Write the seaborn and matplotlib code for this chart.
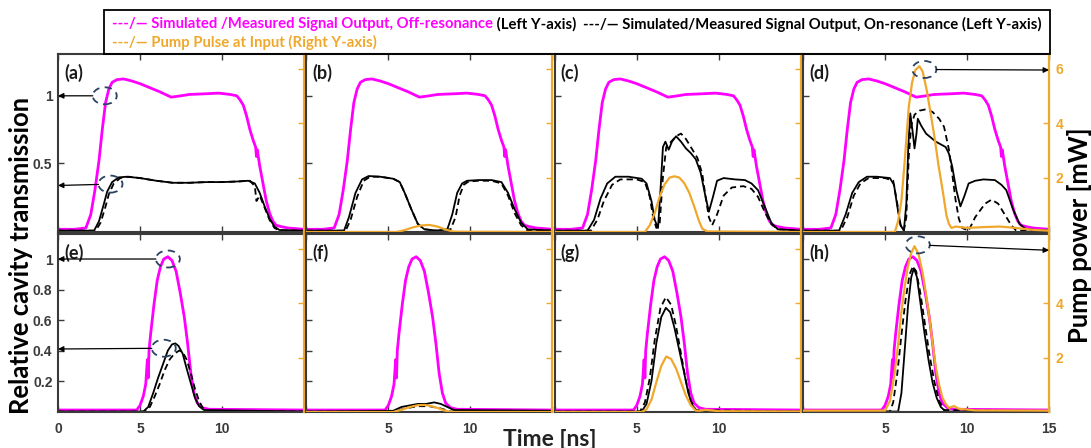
import matplotlib
matplotlib.use("Agg")
import matplotlib.pyplot as plt
import matplotlib.transforms as mtransforms
from matplotlib.patches import Ellipse, Rectangle
import seaborn as sns

# ---------------------------------------------------------------- data
# Off-resonance signal (relative transmission), long pulse, panels (a)-(d)
t_off_long = [0, 1.0, 1.7, 2.0, 2.25, 2.5, 2.7, 2.9, 3.1, 3.3, 3.6, 4.0, 4.5, 5.0, 5.6,
              6.2, 6.9, 7.5, 8.0, 9.0, 9.8, 10.5, 10.9, 11.1, 11.3, 11.5, 11.7, 11.9,
              12.05, 12.1, 12.15, 12.3, 12.5, 12.7, 12.9, 13.1, 13.3, 13.6, 14.0, 15.0]
v_off_long = [0.01, 0.01, 0.02, 0.12, 0.30, 0.52, 0.75, 0.95, 1.05, 1.10, 1.12, 1.125,
              1.11, 1.09, 1.06, 1.03, 0.99, 1.00, 1.01, 1.015, 1.02, 1.01, 1.00, 0.97,
              0.93, 0.85, 0.75, 0.67, 0.62, 0.55, 0.60, 0.48, 0.35, 0.22, 0.13, 0.07,
              0.04, 0.03, 0.02, 0.01]

# Off-resonance signal, short pulse, panels (e)-(h)
t_off_short = [0, 4.8, 5.0, 5.2, 5.35, 5.45, 5.5, 5.55, 5.65, 5.85, 6.05, 6.25, 6.45,
               6.7, 6.95, 7.2, 7.45, 7.7, 7.9, 8.1, 8.3, 8.5, 8.8, 9.2, 15.0]
v_off_short = [0.01, 0.01, 0.04, 0.10, 0.18, 0.34, 0.22, 0.40, 0.51, 0.70, 0.86, 0.95,
               1.00, 1.015, 0.99, 0.92, 0.78, 0.62, 0.45, 0.25, 0.12, 0.055, 0.025,
               0.015, 0.01]

# On-resonance signal, measured (solid) and simulated (dashed), per panel
t_on_meas = {
    "a": [0, 2.2, 2.5, 2.8, 3.0, 3.3, 3.7, 4.2, 5.0, 6.0, 7.0, 8.0, 9.0, 10.0, 11.0,
          11.6, 12.0, 12.3, 12.6, 12.9, 13.2, 13.5, 15],
    "b": [0, 2.3, 2.6, 3.0, 3.4, 3.8, 4.5, 5.3, 5.7, 6.0, 6.4, 6.8, 7.2, 8.0, 8.6, 8.9,
          9.2, 9.5, 9.8, 10.5, 11.3, 11.9, 12.3, 12.7, 13.1, 13.5, 15],
    "c": [0, 2.0, 2.4, 2.8, 3.2, 3.7, 4.5, 5.3, 5.6, 5.9, 6.1, 6.3, 6.45, 6.6, 6.75,
          6.95, 7.15, 7.4, 7.7, 8.0, 8.3, 8.6, 8.9, 9.15, 9.4, 9.65, 9.9, 10.3, 11.0,
          11.6, 12.0, 12.4, 12.8, 13.2, 13.6, 15],
    "d": [0, 2.2, 2.6, 3.0, 3.4, 3.9, 4.5, 5.3, 5.55, 5.75, 5.95, 6.15, 6.3, 6.42, 6.54,
          6.68, 6.8, 6.92, 7.0, 7.2, 7.5, 7.8, 8.1, 8.4, 8.7, 8.9, 9.1, 9.35, 9.6, 9.85,
          10.1, 10.5, 11.0, 11.7, 12.1, 12.4, 12.8, 13.2, 13.6, 15],
    "e": [0, 5.2, 5.5, 5.8, 6.1, 6.4, 6.7, 6.95, 7.15, 7.35, 7.6, 7.85, 8.1, 8.35, 8.6,
          8.9, 15],
    "f": [0, 5.3, 5.8, 6.3, 6.8, 7.3, 7.8, 8.2, 8.6, 9.0, 15],
    "g": [0, 5.3, 5.6, 5.9, 6.2, 6.5, 6.78, 7.05, 7.3, 7.6, 7.9, 8.15, 8.4, 8.7, 15],
    "h": [0, 5.8, 6.0, 6.2, 6.4, 6.6, 6.76, 6.95, 7.15, 7.4, 7.65, 7.9, 8.15, 8.4, 8.7, 15],
}
v_on_meas = {
    "a": [0, 0, 0.07, 0.20, 0.29, 0.36, 0.395, 0.40, 0.39, 0.37, 0.355, 0.355, 0.36,
          0.36, 0.365, 0.37, 0.35, 0.28, 0.18, 0.09, 0.03, 0.005, 0],
    "b": [0, 0, 0.10, 0.28, 0.38, 0.405, 0.40, 0.385, 0.36, 0.28, 0.16, 0.05, 0.01, 0.0,
          0.01, 0.12, 0.28, 0.35, 0.37, 0.375, 0.375, 0.36, 0.28, 0.16, 0.06, 0.01, 0],
    "c": [0, 0, 0.08, 0.24, 0.35, 0.40, 0.40, 0.385, 0.35, 0.22, 0.08, 0.02, 0.30, 0.62,
          0.66, 0.60, 0.66, 0.70, 0.66, 0.61, 0.575, 0.53, 0.43, 0.28, 0.14, 0.25, 0.37,
          0.39, 0.38, 0.375, 0.35, 0.30, 0.18, 0.06, 0.01, 0],
    "d": [0, 0, 0.12, 0.28, 0.36, 0.40, 0.40, 0.39, 0.34, 0.18, 0.04, 0.0, 0.20, 0.62,
          0.87, 0.74, 0.61, 0.72, 0.83, 0.78, 0.72, 0.69, 0.66, 0.64, 0.62, 0.57, 0.475,
          0.30, 0.18, 0.26, 0.35, 0.37, 0.38, 0.375, 0.34, 0.30, 0.16, 0.05, 0.01, 0],
    "e": [0, 0, 0.03, 0.12, 0.22, 0.31, 0.40, 0.44, 0.447, 0.43, 0.38, 0.28, 0.185,
          0.09, 0.035, 0.01, 0],
    "f": [0, 0.005, 0.03, 0.04, 0.05, 0.05, 0.06, 0.05, 0.03, 0.01, 0.005],
    "g": [0, 0, 0.05, 0.20, 0.45, 0.62, 0.68, 0.65, 0.55, 0.40, 0.25, 0.12, 0.04, 0.0, 0],
    "h": [0, 0, 0.12, 0.40, 0.69, 0.88, 0.94, 0.88, 0.72, 0.52, 0.34, 0.19, 0.09, 0.03,
          0.0, 0],
}
t_on_sim = {
    "a": [0, 2.3, 2.6, 2.9, 3.1, 3.4, 3.8, 4.3, 5.0, 6.0, 7.0, 8.0, 9.0, 10.0, 11.0,
          11.7, 12.0, 12.1, 12.3, 12.6, 12.9, 13.2, 13.5, 15],
    "b": [0, 2.4, 2.7, 3.1, 3.5, 3.9, 4.5, 5.3, 5.7, 6.0, 6.4, 6.8, 7.2, 8.0, 8.8, 9.1,
          9.35, 9.6, 9.9, 10.5, 11.3, 11.9, 12.3, 12.7, 13.1, 13.5, 15],
    "c": [0, 2.2, 2.6, 3.0, 3.5, 4.0, 5.0, 5.5, 5.8, 6.0, 6.2, 6.4, 6.6, 6.8, 7.1, 7.4,
          7.7, 8.0, 8.4, 8.7, 9.0, 9.2, 9.4, 9.6, 9.9, 10.3, 10.8, 11.5, 12.0, 12.4,
          12.8, 13.2, 13.6, 15],
    "d": [0, 2.3, 2.7, 3.1, 3.5, 4.0, 5.0, 5.5, 5.75, 5.95, 6.15, 6.3, 6.45, 6.6, 6.8,
          7.1, 7.5, 7.9, 8.3, 8.6, 8.9, 9.1, 9.3, 9.5, 9.7, 10.1, 10.5, 11.1, 11.5, 11.9,
          12.3, 12.7, 13.0, 15],
    "e": [0, 5.3, 5.6, 5.9, 6.2, 6.5, 6.8, 7.1, 7.4, 7.6, 7.85, 8.1, 8.35, 8.6, 8.85,
          9.1, 15],
    "f": [0, 5.3, 6.0, 6.8, 7.5, 8.2, 8.8, 15],
    "g": [0, 5.2, 5.5, 5.8, 6.1, 6.45, 6.78, 7.1, 7.4, 7.7, 8.0, 8.3, 8.6, 15],
    "h": [0, 5.3, 5.5, 5.75, 6.0, 6.25, 6.5, 6.7, 6.9, 7.15, 7.4, 7.7, 8.0, 8.3, 8.6, 15],
}
v_on_sim = {
    "a": [0, 0, 0.06, 0.18, 0.27, 0.35, 0.39, 0.40, 0.39, 0.37, 0.355, 0.355, 0.36,
          0.36, 0.365, 0.37, 0.33, 0.22, 0.26, 0.17, 0.08, 0.02, 0.0, 0],
    "b": [0, 0, 0.08, 0.25, 0.37, 0.40, 0.40, 0.385, 0.36, 0.28, 0.16, 0.05, 0.01, 0.0,
          0.01, 0.10, 0.26, 0.34, 0.365, 0.37, 0.37, 0.35, 0.26, 0.13, 0.04, 0.0, 0],
    "c": [0, 0, 0.08, 0.22, 0.34, 0.38, 0.38, 0.36, 0.25, 0.10, 0.02, 0.05, 0.40, 0.62,
          0.66, 0.70, 0.72, 0.68, 0.60, 0.54, 0.42, 0.25, 0.10, 0.04, 0.12, 0.26, 0.32,
          0.33, 0.31, 0.25, 0.14, 0.05, 0.01, 0],
    "d": [0, 0, 0.10, 0.26, 0.35, 0.39, 0.39, 0.37, 0.20, 0.04, 0.0, 0.10, 0.55, 0.78,
          0.86, 0.89, 0.90, 0.88, 0.83, 0.77, 0.60, 0.42, 0.23, 0.09, 0.02, 0.0, 0.10,
          0.20, 0.23, 0.20, 0.12, 0.04, 0.0, 0],
    "e": [0, 0, 0.03, 0.10, 0.18, 0.27, 0.34, 0.38, 0.40, 0.39, 0.34, 0.25, 0.15, 0.07,
          0.02, 0.005, 0],
    "f": [0, 0, 0.02, 0.035, 0.035, 0.02, 0.0, 0],
    "g": [0, 0, 0.06, 0.22, 0.47, 0.68, 0.75, 0.70, 0.56, 0.38, 0.20, 0.07, 0.01, 0],
    "h": [0, 0, 0.06, 0.25, 0.50, 0.73, 0.90, 0.95, 0.92, 0.78, 0.60, 0.38, 0.20, 0.07,
          0.01, 0],
}

# Pump pulse power at the input [mW] (right axis); panels (a) and (e) have no pump
t_pump = {
    "b": [0, 5.5, 6.0, 6.5, 7.0, 7.5, 8.0, 8.5, 9.0, 15],
    "c": [0, 5.5, 5.8, 6.1, 6.4, 6.7, 7.0, 7.3, 7.6, 7.9, 8.2, 8.5, 8.8, 9.0, 9.3, 15],
    "d": [0, 5.6, 5.8, 6.0, 6.2, 6.45, 6.65, 6.85, 7.1, 7.3, 7.55, 7.8, 8.05, 8.25,
          8.45, 8.6, 8.75, 8.9, 9.05, 9.3, 10.0, 11.0, 12.0, 13.0, 14.0, 15],
    "f": [0, 5.3, 5.8, 6.3, 6.8, 7.2, 7.6, 8.0, 8.4, 8.8, 15],
    "g": [0, 5.3, 5.6, 5.9, 6.2, 6.5, 6.8, 7.1, 7.4, 7.7, 8.0, 8.3, 8.6, 8.9, 9.2, 10,
          15],
    "h": [0, 5.0, 5.3, 5.58, 5.8, 5.98, 6.2, 6.39, 6.6, 6.8, 7.05, 7.3, 7.5, 7.7, 7.9,
          8.1, 8.3, 8.5, 8.7, 8.9, 9.2, 9.5, 10.5, 15],
}
p_pump = {
    "b": [0, 0, 0.07, 0.17, 0.24, 0.26, 0.20, 0.09, 0.01, 0],
    "c": [0, 0, 0.25, 0.70, 1.30, 1.75, 2.00, 2.05, 2.00, 1.80, 1.45, 0.95, 0.40, 0.12,
          0.02, 0],
    "d": [0, 0, 0.40, 1.15, 2.60, 4.60, 5.50, 5.96, 6.10, 5.90, 5.20, 4.30, 3.37, 2.50,
          1.77, 1.20, 0.60, 0.30, 0.15, 0.20, 0.15, 0.18, 0.20, 0.15, 0.08, 0.05],
    "f": [0, 0, 0.08, 0.18, 0.25, 0.26, 0.22, 0.15, 0.06, 0.0, 0],
    "g": [0, 0, 0.10, 0.45, 1.10, 1.70, 2.04, 1.95, 1.60, 1.10, 0.60, 0.25, 0.05, 0.05,
          0.08, 0.03, 0.02],
    "h": [0.05, 0.05, 0.40, 1.40, 2.50, 3.60, 4.60, 5.34, 5.85, 6.10, 5.80, 5.10, 4.35,
          3.49, 2.55, 1.64, 1.00, 0.53, 0.30, 0.15, 0.22, 0.12, 0.06, 0.05],
}

panel_ids = ["a", "b", "c", "d", "e", "f", "g", "h"]
x_ticks = [0, 5, 10, 15]
x_tick_labels = {
    "e": ["0", "5", "10", ""],
    "f": ["", "5", "10", ""],
    "g": ["", "5", "10", ""],
    "h": ["", "5", "10", "15"],
}
y_ticks_top = [0.5, 1]
y_ticks_bottom = [0.2, 0.4, 0.6, 0.8, 1]
y_tick_labels_top = ["0.5", "1"]
y_tick_labels_bottom = ["0.2", "0.4", "0.6", "0.8", "1"]
p_ticks = [2, 4, 6]
p_tick_labels_top = ["2", "4", "6"]
p_tick_labels_bottom = ["2", "4", ""]

legend_row1 = [
    ("---/\u2014 Simulated /Measured Signal Output, Off-resonance", "off"),
    (" (Left Y-axis)", "on"),
]
legend_row1b = "---/\u2014 Simulated/Measured Signal Output, On-resonance (Left Y-axis)"
legend_row2 = "---/\u2014 Pump Pulse at Input (Right Y-axis)"

# ---------------------------------------------------------------- style
MAGENTA = "#ff00ff"
ORANGE = "#f0a82c"
FRAME = "#3a3a3a"
TICKTXT = "#3a3a3a"
ELLIPSE = "#2b4260"

sns.set_theme(style="ticks")
plt.rcParams["font.family"] = ["Liberation Sans", "DejaVu Sans"]
LABEL_FONT = ["Lato", "DejaVu Sans"]

W, H = 1091, 448
fig = plt.figure(figsize=(W / 100, H / 100), dpi=100)


def px_rect(x0, y0, x1, y1):
    return [x0 / W, 1 - y1 / H, (x1 - x0) / W, (y1 - y0) / H]


col_left = [58, 306.3, 554.7, 803]
col_w = 246
row_y = [(54, 232), (234, 412)]

axes = {}
twins = {}
for i, pid in enumerate(panel_ids):
    r, c = divmod(i, 4)
    y0, y1 = row_y[r]
    ax = fig.add_axes(px_rect(col_left[c], y0, col_left[c] + col_w, y1))
    ax2 = ax.twinx()
    axes[pid] = ax
    twins[pid] = ax2

    if r == 0:
        sns.lineplot(x=t_off_long, y=v_off_long, ax=ax, color=MAGENTA, linewidth=2.0)
        sns.lineplot(x=t_off_long, y=v_off_long, ax=ax, color=MAGENTA, linewidth=1.0,
                     linestyle="--")
    else:
        sns.lineplot(x=t_off_short, y=v_off_short, ax=ax, color=MAGENTA, linewidth=2.0)
        sns.lineplot(x=t_off_short, y=v_off_short, ax=ax, color=MAGENTA, linewidth=1.0,
                     linestyle="--")
    sns.lineplot(x=t_on_sim[pid], y=v_on_sim[pid], ax=ax, color="black", linewidth=1.3,
                 linestyle=(0, (3.5, 2.2)))
    sns.lineplot(x=t_on_meas[pid], y=v_on_meas[pid], ax=ax, color="black", linewidth=1.3)
    if pid in t_pump:
        sns.lineplot(x=t_pump[pid], y=p_pump[pid], ax=ax2, color=ORANGE, linewidth=1.6)

    ax.set_xlim(0, 15)
    ax2.set_ylim(0, 6.55)
    if r == 0:
        ax.set_ylim(-0.01, 1.31)
        ax.set_yticks(y_ticks_top)
        ax.set_yticklabels(y_tick_labels_top if pid == "a" else [""] * 2)
        ax2.set_yticks(p_ticks)
        ax2.set_yticklabels(p_tick_labels_top if pid == "d" else [""] * 3)
    else:
        ax.set_ylim(-0.003, 1.164)
        ax.set_yticks(y_ticks_bottom)
        ax.set_yticklabels(y_tick_labels_bottom if pid == "e" else [""] * 5)
        ax2.set_yticks(p_ticks)
        ax2.set_yticklabels(p_tick_labels_bottom if pid == "h" else [""] * 3)
    ax.set_xticks(x_ticks)
    ax.set_xticklabels(x_tick_labels.get(pid, [""] * 4))
    ax.set_xlabel("")
    ax.set_ylabel("")
    ax2.set_ylabel("")

    for side in ["left", "top", "bottom"]:
        ax.spines[side].set_color(FRAME)
        ax.spines[side].set_linewidth(1.5)
    ax.spines["right"].set_visible(False)
    for side in ["left", "top", "bottom"]:
        ax2.spines[side].set_visible(False)
    ax2.spines["right"].set_color(ORANGE)
    ax2.spines["right"].set_linewidth(1.6)

    ax.tick_params(axis="both", direction="in", length=4, width=1, color=FRAME,
                   labelsize=10, labelcolor=TICKTXT, top=True, bottom=True, pad=4)
    ax.tick_params(axis="x", pad=7)
    ax2.tick_params(axis="y", direction="in", length=4, width=1, color=ORANGE,
                    labelsize=10, labelcolor=ORANGE, pad=5)
    for lab in ax.get_xticklabels() + ax.get_yticklabels() + ax2.get_yticklabels():
        lab.set_fontweight("bold")

    ax.text(0.025, 0.895, f"({pid})", transform=ax.transAxes, fontsize=13,
            fontweight="bold", family=LABEL_FONT, color="#1a1a1a", va="center")


# ---------------------------------------------------------------- call-outs
def callout(ax, xc, yc, x_axis, y_axis, w=24, h=17):
    """Dashed ring around a level with an arrow to the axis it is read on."""
    tr = mtransforms.ScaledTranslation(xc, yc, ax.transData)
    ax.add_patch(Ellipse((0, 0), w, h, transform=tr, fill=False, edgecolor=ELLIPSE,
                         linewidth=1.3, linestyle=(0, (4, 3)), clip_on=False, zorder=6))
    ax.annotate("", xy=(x_axis, y_axis), xycoords=("axes fraction", "data"),
                xytext=(xc, yc), textcoords="data",
                arrowprops=dict(arrowstyle="-|>", color="black", lw=0.9,
                                shrinkA=w / 2 * 0.72, shrinkB=0, mutation_scale=8),
                annotation_clip=False, zorder=6)


callout(axes["a"], 2.85, 1.0, 0, 1.0)
callout(axes["a"], 3.2, 0.345, 0, 0.335)
callout(axes["e"], 6.7, 1.0, 0, 1.0)
callout(axes["e"], 6.45, 0.415, 0, 0.41)
callout(twins["d"], 7.4, 5.98, 1, 5.96)
callout(twins["h"], 7.0, 6.15, 1, 5.95)

# ---------------------------------------------------------------- texts
fig.canvas.draw()
renderer = fig.canvas.get_renderer()


def fit_size(text_obj, target, along="width"):
    bb = text_obj.get_window_extent(renderer)
    cur = bb.width if along == "width" else bb.height
    text_obj.set_fontsize(text_obj.get_fontsize() * target / cur)


# legend box
fig.add_artist(Rectangle((104 / W, 1 - 54 / H), (1050 - 104) / W, 44 / H,
                         transform=fig.transFigure, fill=False, edgecolor="black",
                         linewidth=1.3, zorder=5))

probe = fig.text(583 / W, 1 - 24 / H, legend_row1b, fontsize=10, fontweight="bold",
                 family=LABEL_FONT, color="black", va="center", ha="left")
fit_size(probe, 1042 - 583)
leg_size = probe.get_fontsize()

x = 112
colors = {"off": MAGENTA, "on": "black"}
for s, key in legend_row1:
    t = fig.text(x / W, 1 - 24 / H, s, fontsize=leg_size, fontweight="bold",
                 family=LABEL_FONT, color=colors[key], va="center", ha="left")
    x += t.get_window_extent(renderer).width
fig.text(112 / W, 1 - 42 / H, legend_row2, fontsize=leg_size, fontweight="bold",
         family=LABEL_FONT, color=ORANGE, va="center", ha="left")

ylab = fig.text(21 / W, 1 - 255 / H, "Relative cavity transmission", rotation=90,
                fontsize=14, fontweight="bold", family=LABEL_FONT, color="black",
                ha="center", va="center")
fit_size(ylab, 320, along="height")
fig.text(1080 / W, 1 - 235 / H, "Pump power [mW]", rotation=90,
         fontsize=ylab.get_fontsize(), fontweight="bold", family=LABEL_FONT,
         color="black", ha="center", va="center")
xlab = fig.text(550 / W, 1 - 439 / H, "Time [ns]", fontsize=14, fontweight="bold",
                family=LABEL_FONT, color="#222222", ha="center", va="center")
fit_size(xlab, 94)

fig.savefig("out.png", dpi=100, facecolor="white")
